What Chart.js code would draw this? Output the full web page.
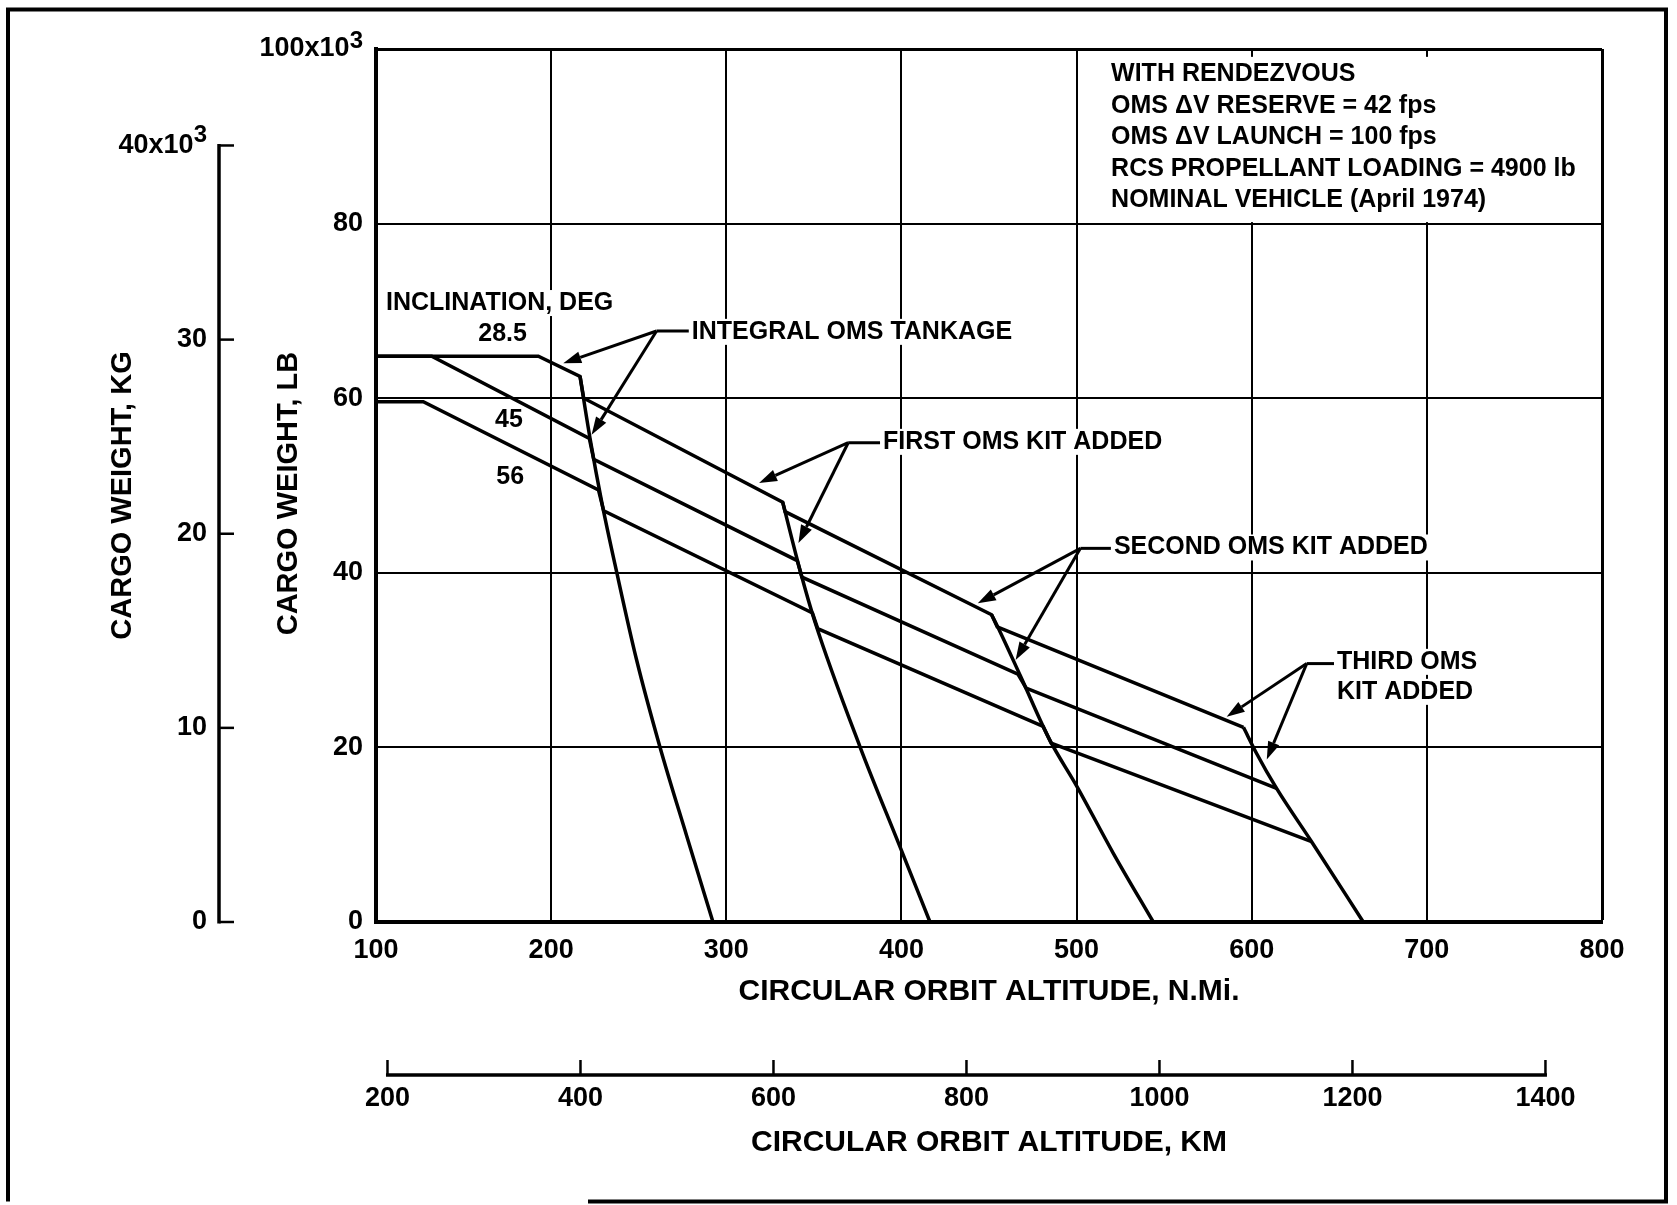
<!DOCTYPE html>
<html>
<head>
<meta charset="utf-8">
<title>Cargo weight vs circular orbit altitude</title>
<script src="https://cdn.jsdelivr.net/npm/chart.js@4.4.1/dist/chart.umd.min.js"></script>
<style>
  html, body { margin: 0; padding: 0; background: #fff; }
  canvas { display: block; }
</style>
</head>
<body>
<canvas id="myChart" width="1677" height="1205"></canvas>
<script>
// altitude in N.Mi., cargo weight in 10^3 lb
const alt285 = [100, 192.7, 216.5, 218.6, 332.2, 333.6, 451.5, 454.7, 595.3];
const cargo285 = [64.8, 64.8, 62.5, 60.0, 48.1, 47.0, 35.2, 33.8, 22.3];
const alt45 = [100, 131.8, 221.8, 224.3, 340.5, 343.2, 466.5, 471.2, 614.2];
const cargo45 = [64.8, 64.8, 55.4, 53.0, 41.4, 39.5, 28.4, 26.8, 15.3];
const alt56 = [100, 127, 227, 230, 349.2, 352.2, 480.9, 485.5, 634.2];
const cargo56 = [59.6, 59.6, 49.5, 47.1, 35.4, 33.6, 22.4, 20.5, 9.2];

// OMS tank capacity limits
const altIntegral = [216.5, 222.2, 228.9, 237.4, 248.7, 262.2, 277.4, 292.4];
const cargoIntegral = [62.5, 55.4, 48.1, 40.1, 30.1, 20.0, 9.85, 0];
const altKit1 = [332.2, 342.1, 350.6, 376.3, 399.2, 416.3];
const cargoKit1 = [48.1, 40.3, 34.4, 20.1, 8.6, 0];
const altKit2 = [451.5, 456.3, 467.7, 484.8, 500, 520.9, 543.8];
const cargoKit2 = [35.2, 33.25, 28.3, 20.8, 15.6, 7.9, 0];
const altKit3 = [595.3, 602.8, 614.2, 634.2, 663.7];
const cargoKit3 = [22.3, 19.3, 15.3, 9.2, 0];

const inclinations = ["28.5", "45", "56"];

const nmiTicks = [100, 200, 300, 400, 500, 600, 700, 800];
const nmiTickLabels = ["100", "200", "300", "400", "500", "600", "700", "800"];
const kmTicks = [200, 400, 600, 800, 1000, 1200, 1400];
const kmTickLabels = ["200", "400", "600", "800", "1000", "1200", "1400"];
const lbTicks = [0, 20, 40, 60, 80, 100];
const lbTickLabels = ["0", "20", "40", "60", "80", "100x10\u2002"];
const kgTicks = [0, 10, 20, 30, 40];
const kgTickLabels = ["0", "10", "20", "30", "40x10\u2002"];
const exponent = "3";

const conditions = [
  "WITH RENDEZVOUS",
  "OMS ΔV RESERVE = 42 fps",
  "OMS ΔV LAUNCH = 100 fps",
  "RCS PROPELLANT LOADING = 4900 lb",
  "NOMINAL VEHICLE (April 1974)",
];

const FAMILY = "'Liberation Sans', Arial, Helvetica, sans-serif";
const TICK_FONT = { family: FAMILY, size: 27, weight: "bold" };
const TITLE_FONT = { family: FAMILY, size: 30, weight: "bold" };
const NOTE_FONT = "bold 25px " + FAMILY;
const Y_TITLE_FONT = "bold 29px " + FAMILY;
const EXP_FONT = "bold 24px " + FAMILY;

// annotation placement, in axis units (N.Mi., 10^3 lb)
const inclinationTitle = [105.7, 70.9];
const inclinationSpots = [[172.3, 67.3], [175.9, 57.5], [176.6, 51.0]];
const conditionsSpot = [519.7, 97.1];
const callouts = [
  { lines: ["INTEGRAL OMS TANKAGE"], text: [280.3, 67.6], hub: [260.2, 67.7], tips: [[206.9, 64.0], [223.1, 55.8]] },
  { lines: ["FIRST OMS KIT ADDED"], text: [389.5, 55.0], hub: [369.6, 54.9], tips: [[318.7, 50.3], [341.2, 43.4]] },
  { lines: ["SECOND OMS KIT ADDED"], text: [521.3, 42.9], hub: [502.2, 42.8], tips: [[443.6, 36.5], [465.2, 30.0]] },
  { lines: ["THIRD OMS", "KIT ADDED"], text: [648.7, 29.8], hub: [631.4, 29.6], tips: [[585.7, 23.5], [608.6, 18.6]] },
];

function toPoints(alts, cargos) {
  return alts.map((a, i) => ({ x: a, y: cargos[i] }));
}

function fixedTicks(values) {
  return (scale) => {
    scale.ticks = values.map((v) => ({ value: v }));
  };
}

function labelFrom(values, labels) {
  return (value) => {
    const i = values.indexOf(value);
    return i === -1 ? "" : labels[i];
  };
}

function drawNote(ctx, text, x, y, align) {
  ctx.font = NOTE_FONT;
  const w = ctx.measureText(text).width;
  const left = align === "center" ? x - w / 2 : x;
  ctx.fillStyle = "#fff";
  ctx.fillRect(left - 4, y - 13, w + 8, 26);
  ctx.fillStyle = "#000";
  ctx.textAlign = align;
  ctx.textBaseline = "middle";
  ctx.fillText(text, x, y);
}

function drawArrow(ctx, x1, y1, x2, y2) {
  const a = Math.atan2(y2 - y1, x2 - x1);
  const len = 18;
  const half = 6;
  const bx = x2 - len * Math.cos(a);
  const by = y2 - len * Math.sin(a);
  ctx.beginPath();
  ctx.moveTo(x1, y1);
  ctx.lineTo(bx, by);
  ctx.stroke();
  ctx.beginPath();
  ctx.moveTo(x2, y2);
  ctx.lineTo(bx + half * Math.sin(a), by - half * Math.cos(a));
  ctx.lineTo(bx - half * Math.sin(a), by + half * Math.cos(a));
  ctx.closePath();
  ctx.fill();
}

function drawVerticalTitle(ctx, text, x, y) {
  ctx.save();
  ctx.translate(x, y);
  ctx.rotate(-Math.PI / 2);
  ctx.font = Y_TITLE_FONT;
  ctx.fillStyle = "#000";
  ctx.textAlign = "center";
  ctx.textBaseline = "middle";
  ctx.fillText(text, 0, 0);
  ctx.restore();
}

const overlayPlugin = {
  id: "overlay",
  beforeDraw(chart) {
    const { ctx, width, height } = chart;
    ctx.save();
    ctx.fillStyle = "#fff";
    ctx.fillRect(0, 0, width, height);
    ctx.restore();
  },
  beforeDatasetsDraw(chart) {
    const { ctx } = chart;
    const { x, y } = chart.scales;
    // white panel behind the list of conditions
    const left = x.getPixelForValue(500) + 2;
    const right = x.getPixelForValue(800) - 2;
    const top = y.getPixelForValue(99.1);
    const bottom = y.getPixelForValue(80) - 1.5;
    ctx.save();
    ctx.fillStyle = "#fff";
    ctx.fillRect(left, top, right - left, bottom - top);
    ctx.restore();
  },
  afterDatasetsDraw(chart) {
    const { ctx } = chart;
    const { x, y } = chart.scales;
    const px = (v) => x.getPixelForValue(v);
    const py = (v) => y.getPixelForValue(v);

    ctx.save();
    drawNote(ctx, "INCLINATION, DEG", px(inclinationTitle[0]), py(inclinationTitle[1]), "left");
    inclinations.forEach((name, i) => {
      const [a, c] = inclinationSpots[i];
      ctx.font = NOTE_FONT;
      ctx.fillStyle = "#000";
      ctx.textAlign = "center";
      ctx.textBaseline = "middle";
      ctx.fillText(name, px(a), py(c));
    });

    conditions.forEach((line, i) => {
      drawNote(ctx, line, px(conditionsSpot[0]), py(conditionsSpot[1]) + i * 31.5, "left");
    });

    callouts.forEach((note) => {
      const tx = px(note.text[0]);
      const ty = py(note.text[1]);
      note.lines.forEach((line, i) => drawNote(ctx, line, tx, ty + i * 30, "left"));
      const hx = px(note.hub[0]);
      const hy = py(note.hub[1]);
      ctx.strokeStyle = "#000";
      ctx.fillStyle = "#000";
      ctx.lineWidth = 3;
      ctx.beginPath();
      ctx.moveTo(hx, hy);
      ctx.lineTo(tx - 3, hy);
      ctx.stroke();
      note.tips.forEach(([a, c]) => drawArrow(ctx, hx, hy, px(a), py(c)));
    });
    ctx.restore();
  },
  afterDraw(chart) {
    const { ctx, chartArea } = chart;
    const { y, kg, km } = chart.scales;
    ctx.save();
    ctx.strokeStyle = "#000";
    ctx.fillStyle = "#000";

    // axis titles, set a little below the middle of the plot as in the original
    const midY = (chartArea.top + chartArea.bottom) / 2;
    drawVerticalTitle(ctx, "CARGO WEIGHT, LB", y.left + 70, midY + 8);
    drawVerticalTitle(ctx, "CARGO WEIGHT, KG", kg.left + 10, midY + 10);

    // full-size raised exponent after the 10 of the top tick labels
    ctx.font = EXP_FONT;
    ctx.textAlign = "right";
    ctx.textBaseline = "middle";
    ctx.fillText(exponent, y.right - 13, y.getPixelForValue(100) - 8);
    ctx.fillText(exponent, kg.right - 12, kg.getPixelForValue(40) - 10);

    // kilogram axis, ticks pointing right
    const ax = kg.right;
    ctx.lineWidth = 3.5;
    ctx.beginPath();
    ctx.moveTo(ax, kg.getPixelForValue(0) + 1.5);
    ctx.lineTo(ax, kg.getPixelForValue(40) - 1.5);
    ctx.stroke();
    ctx.lineWidth = 2.5;
    kgTicks.forEach((v) => {
      const p = kg.getPixelForValue(v);
      ctx.beginPath();
      ctx.moveTo(ax, p);
      ctx.lineTo(ax + 15, p);
      ctx.stroke();
    });

    // kilometre axis, ticks pointing up
    const ay = km.top + 65;
    ctx.lineWidth = 3.5;
    ctx.beginPath();
    ctx.moveTo(km.getPixelForValue(200) - 1.5, ay);
    ctx.lineTo(km.getPixelForValue(1400) + 1.5, ay);
    ctx.stroke();
    ctx.lineWidth = 2.5;
    kmTicks.forEach((v) => {
      const p = km.getPixelForValue(v);
      ctx.beginPath();
      ctx.moveTo(p, ay);
      ctx.lineTo(p, ay - 15);
      ctx.stroke();
    });

    // page frame (bottom left part is missing on the scan)
    ctx.lineWidth = 4;
    ctx.beginPath();
    ctx.moveTo(588, 1201.5);
    ctx.lineTo(1666, 1201.5);
    ctx.lineTo(1666, 9.5);
    ctx.lineTo(8, 9.5);
    ctx.lineTo(8, 1201.5);
    ctx.stroke();
    ctx.restore();
  },
};

const lineStyle = {
  borderColor: "#000",
  borderWidth: 3.5,
  pointRadius: 0,
  fill: false,
  tension: 0,
};

const limitStyle = { ...lineStyle, cubicInterpolationMode: "monotone" };

const ctx = document.getElementById("myChart").getContext("2d");

new Chart(ctx, {
  type: "line",
  data: {
    datasets: [
      { label: inclinations[0], data: toPoints(alt285, cargo285), ...lineStyle },
      { label: inclinations[1], data: toPoints(alt45, cargo45), ...lineStyle },
      { label: inclinations[2], data: toPoints(alt56, cargo56), ...lineStyle },
      { label: "Integral OMS tankage", data: toPoints(altIntegral, cargoIntegral), ...limitStyle },
      { label: "First OMS kit", data: toPoints(altKit1, cargoKit1), ...limitStyle },
      { label: "Second OMS kit", data: toPoints(altKit2, cargoKit2), ...limitStyle },
      { label: "Third OMS kit", data: toPoints(altKit3, cargoKit3), ...limitStyle },
    ],
  },
  options: {
    responsive: false,
    animation: false,
    layout: { padding: { left: 113, right: 75, top: 49, bottom: 44 } },
    plugins: {
      legend: { display: false },
      tooltip: { enabled: false },
    },
    scales: {
      x: {
        type: "linear",
        position: "bottom",
        weight: 0,
        min: 100,
        max: 800,
        afterBuildTicks: fixedTicks(nmiTicks),
        afterFit: (s) => { s.height = 88; },
        ticks: {
          color: "#000",
          font: TICK_FONT,
          padding: 12,
          maxRotation: 0,
          autoSkip: false,
          callback: labelFrom(nmiTicks, nmiTickLabels),
        },
        grid: {
          color: "#000",
          lineWidth: (c) => (c.tick && c.tick.value === 800 ? 3 : 2),
          drawTicks: false,
        },
        border: { display: true, color: "#000", width: 4 },
        title: {
          display: true,
          text: "CIRCULAR ORBIT ALTITUDE, N.Mi.",
          color: "#000",
          font: TITLE_FONT,
          padding: 0,
        },
      },
      km: {
        type: "linear",
        axis: "x",
        position: "bottom",
        weight: 1,
        min: 188.1,
        max: 1458.6,
        afterBuildTicks: fixedTicks(kmTicks),
        afterFit: (s) => { s.height = 151; },
        ticks: {
          color: "#000",
          font: TICK_FONT,
          padding: 72,
          maxRotation: 0,
          autoSkip: false,
          callback: labelFrom(kmTicks, kmTickLabels),
        },
        grid: { display: false, drawTicks: false },
        border: { display: false },
        title: {
          display: true,
          text: "CIRCULAR ORBIT ALTITUDE, KM",
          color: "#000",
          font: TITLE_FONT,
          padding: 0,
        },
      },
      y: {
        type: "linear",
        position: "left",
        weight: 0,
        min: 0,
        max: 100,
        afterBuildTicks: fixedTicks(lbTicks),
        afterFit: (s) => { s.width = 157; },
        ticks: {
          color: "#000",
          font: TICK_FONT,
          padding: 13,
          autoSkip: false,
          callback: labelFrom(lbTicks, lbTickLabels),
        },
        grid: {
          color: "#000",
          lineWidth: (c) => (c.tick && c.tick.value === 100 ? 3 : 2),
          drawTicks: false,
        },
        border: { display: true, color: "#000", width: 4 },
        title: { display: false },
      },
      kg: {
        type: "linear",
        axis: "y",
        position: "left",
        weight: 1,
        min: 0,
        max: 44.97,
        afterBuildTicks: fixedTicks(kgTicks),
        afterFit: (s) => { s.width = 106; },
        ticks: {
          color: "#000",
          font: TICK_FONT,
          padding: 12,
          autoSkip: false,
          callback: labelFrom(kgTicks, kgTickLabels),
        },
        grid: { display: false, drawTicks: false },
        border: { display: false },
        title: { display: false },
      },
    },
  },
  plugins: [overlayPlugin],
});
</script>
</body>
</html>
